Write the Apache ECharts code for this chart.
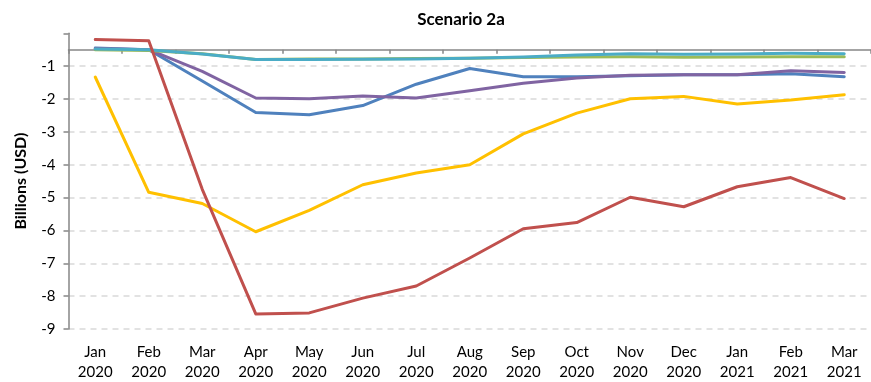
<!DOCTYPE html>
<html>
<head>
<meta charset="utf-8">
<script src="https://cdn.jsdelivr.net/npm/echarts@6/dist/echarts.min.js"></script>
<style>
  html, body { margin: 0; padding: 0; background: #ffffff; }
  #chart { width: 871px; height: 382px; }
</style>
</head>
<body>
<div id="chart"></div>
<script>
// Monthly categories (two-line labels: month / year)
const months = ['Jan\n2020', 'Feb\n2020', 'Mar\n2020', 'Apr\n2020', 'May\n2020', 'Jun\n2020', 'Jul\n2020',
  'Aug\n2020', 'Sep\n2020', 'Oct\n2020', 'Nov\n2020', 'Dec\n2020', 'Jan\n2021', 'Feb\n2021', 'Mar\n2021'];

// Series values, billions of USD
const blueSeries   = [-0.45, -0.50, -1.45, -2.41, -2.48, -2.20, -1.55, -1.07, -1.32, -1.32, -1.29, -1.26, -1.26, -1.23, -1.32];
const purpleSeries = [-0.46, -0.50, -1.16, -1.97, -1.99, -1.91, -1.97, -1.75, -1.52, -1.36, -1.28, -1.26, -1.26, -1.14, -1.19];
const greenSeries  = [-0.50, -0.52, -0.62, -0.80, -0.78, -0.78, -0.77, -0.76, -0.74, -0.72, -0.71, -0.73, -0.72, -0.71, -0.71];
const aquaSeries   = [-0.48, -0.50, -0.63, -0.80, -0.80, -0.79, -0.78, -0.76, -0.72, -0.66, -0.62, -0.64, -0.63, -0.61, -0.62];
const yellowSeries = [-1.33, -4.84, -5.18, -6.04, -5.39, -4.61, -4.25, -4.00, -3.06, -2.43, -1.99, -1.92, -2.15, -2.03, -1.87];
const redSeries    = [-0.19, -0.23, -4.75, -8.54, -8.51, -8.06, -7.69, -6.84, -5.95, -5.76, -4.99, -5.28, -4.67, -4.39, -5.03];

// Value-axis range and where the category axis line crosses it
const yMin = -9, yMax = 0, yStep = 1;
const axisCross = -0.5;

const FONT = 'Lato, "Liberation Sans", Arial, sans-serif';
const chart = echarts.init(document.getElementById('chart'), null, { renderer: 'canvas' });

const gridTop = 33.3, gridBottomPx = 329.7, chartH = 382;
const plotH = gridBottomPx - gridTop;
const crossOffset = -plotH * (yMax - axisCross) / (yMax - yMin);

// Gridline colours, from the bottom line upward; the top (0) line is left undrawn
const gridColors = [];
for (let v = yMin; v <= yMax; v += yStep) gridColors.push(v === yMax ? 'rgba(0,0,0,0)' : '#d9d9d9');

function lineSeries(name, data, color) {
  return {
    name, type: 'line', data, xAxisIndex: 0,
    symbol: 'none', smooth: false, animation: false,
    lineStyle: { width: 3, color, cap: 'round', join: 'round' },
    itemStyle: { color }
  };
}

chart.setOption({
  animation: false,
  backgroundColor: '#ffffff',
  textStyle: { fontFamily: FONT },
  title: {
    text: 'Scenario 2a',
    left: 456, top: 6, textAlign: 'center',
    textStyle: { fontFamily: FONT, fontSize: 17, fontWeight: 'bold', color: '#000000' }
  },
  grid: { left: 68.5, right: -4, top: gridTop, bottom: chartH - gridBottomPx, containLabel: false },
  xAxis: [
    {
      type: 'category', data: months, position: 'bottom', boundaryGap: true,
      axisLine: { show: false }, axisTick: { show: false },
      axisLabel: { color: '#000000', fontSize: 15, fontFamily: FONT, margin: 13, lineHeight: 20, interval: 0 },
      splitLine: { show: false }
    },
    {
      // Category axis line drawn where it crosses the value axis
      type: 'category', data: months, position: 'top', offset: crossOffset, boundaryGap: true,
      axisLine: { show: true, onZero: false, lineStyle: { color: '#868686', width: 1.5 } },
      axisTick: { show: true, inside: true, length: 4, alignWithLabel: false, lineStyle: { color: '#868686', width: 1.5 } },
      axisLabel: { show: false },
      splitLine: { show: false }
    }
  ],
  yAxis: {
    type: 'value', min: yMin, max: yMax, interval: yStep,
    name: 'Billions (USD)', nameLocation: 'middle', nameRotate: 90, nameGap: 40,
    nameTextStyle: { fontFamily: FONT, fontSize: 16, fontWeight: 'bold', color: '#000000' },
    axisLine: { show: true, lineStyle: { color: '#868686', width: 1.5 } },
    axisTick: { show: true, inside: false, length: 5, lineStyle: { color: '#868686', width: 1.5 } },
    axisLabel: {
      color: '#000000', fontSize: 15, fontFamily: FONT, margin: 13,
      formatter: v => (v === 0 ? '' : String(v))
    },
    splitLine: { show: true, lineStyle: { color: gridColors, width: 1.5, type: [6, 5] } }
  },
  series: [
    lineSeries('Series A', blueSeries, '#4f81bd'),
    lineSeries('Series D', purpleSeries, '#8064a2'),
    lineSeries('Series C', greenSeries, '#9bbb59'),
    lineSeries('Series E', aquaSeries, '#4bacc6'),
    lineSeries('Series F', yellowSeries, '#ffc000'),
    lineSeries('Series B', redSeries, '#c0504d')
  ]
});
</script>
</body>
</html>
